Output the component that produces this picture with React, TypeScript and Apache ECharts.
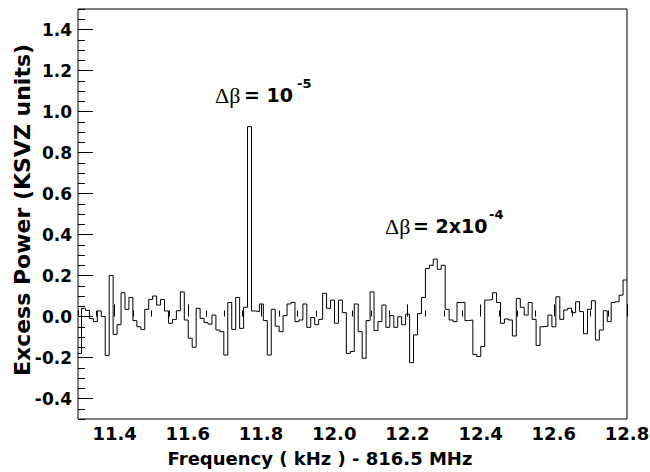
import React, { useEffect, useRef } from "react";
import * as echarts from "echarts";

// Histogram binning (kHz, offset from 816.5 MHz)
const binStart = 11.2988;
const binWidth = 0.0108;

// Excess power per bin (KSVZ units)
const powerLow = [
  -0.18, 0.04, 0.03, -0.01, -0.025, 0.027, 0.0, -0.19, 0.2, -0.087, -0.04, 0.116, 0.035, 0.093,
  -0.02, -0.05, -0.063, 0.035, 0.083, 0.1, 0.056, 0.083, 0.027, -0.033, -0.014, 0.028, 0.12,
  -0.017, -0.106, -0.15, 0.04, -0.009, -0.03, -0.037, 0.007, -0.066, -0.074, -0.188, 0.068,
  -0.063, 0.093, -0.058, 0.045, 0.926,
];
const powerMid = [
  0.027, 0.024, 0.061, -0.02, -0.188, 0.035, -0.047, -0.074, 0.004, 0.061, 0.069, -0.025, -0.017,
  0.061, -0.053, -0.005, -0.04, -0.014, 0.113, 0.04, 0.08, -0.033, 0.08, 0.019, -0.18, -0.171,
  0.061, -0.074, -0.204, -0.02, 0.12, -0.069, -0.025, 0.056, -0.053, 0.004, -0.053, -0.001,
  -0.04, 0.011, -0.225, -0.09, 0.014, 0.093, 0.234, 0.25, 0.28, 0.23, 0.25,
];
const powerHigh = [
  0.035, -0.017, -0.025, 0.068, 0.069, -0.02, -0.017, -0.185, -0.195, -0.146, 0.08, 0.083, 0.116,
  0.068, -0.033, -0.012, -0.017, -0.095, 0.088, 0.045, 0.007, 0.068, -0.014, -0.141, -0.05,
  -0.047, 0.007, -0.05, 0.096, -0.014, 0.032, 0.04, 0.019, 0.072, 0.024, -0.084, 0.035, 0.077,
  -0.115, -0.066, 0.028, -0.025, 0.068, 0.072, 0.104, 0.178,
];

const xMajorTicks = [11.4, 11.6, 11.8, 12.0, 12.2, 12.4, 12.6, 12.8];
const yMajorTicks = [-0.4, -0.2, 0.0, 0.2, 0.4, 0.6, 0.8, 1.0, 1.2, 1.4];

const xTitle = "Frequency ( kHz ) - 816.5 MHz";
const yTitle = "Excess Power (KSVZ units)";

const SANS = "'DejaVu Sans', sans-serif";
const SERIF = "'Liberation Serif', 'DejaVu Serif', serif";

function minorTicks(lo: number, hi: number, stepHundredths: number, majorHundredths: number) {
  const out: number[] = [];
  for (let k = Math.round(lo * 100); k <= Math.round(hi * 100); k += stepHundredths) {
    if (k % majorHundredths !== 0) out.push(k / 100);
  }
  return out;
}

export default function App() {
  const ref = useRef<HTMLDivElement>(null);

  useEffect(() => {
    if (!ref.current) return;
    const chart = echarts.init(ref.current, null, { renderer: "svg" });

    const values = [...powerLow, ...powerMid, ...powerHigh];
    const data: number[][] = values.map((v, k) => [binStart + k * binWidth, v]);
    data.push([binStart + values.length * binWidth, values[values.length - 1]]);

    const xMinor = minorTicks(11.3, 12.8, 5, 20);
    const yMinor = minorTicks(-0.5, 1.5, 5, 20);

    const tickLine = { color: "#000", width: 1 };

    chart.setOption({
      animation: false,
      backgroundColor: "#fff",
      grid: {
        left: 78,
        top: 9,
        width: 549,
        height: 410,
        show: true,
        borderColor: "#000",
        borderWidth: 1,
        backgroundColor: "transparent",
        containLabel: false,
        outerBoundsMode: "none",
      },
      xAxis: [
        {
          type: "value",
          min: 11.3,
          max: 12.8,
          position: "bottom",
          axisLine: { show: false },
          splitLine: { show: false },
          axisTick: { show: true, inside: true, length: 12, customValues: xMajorTicks, lineStyle: tickLine },
          axisLabel: {
            customValues: xMajorTicks,
            formatter: (v: number) => v.toFixed(1),
            fontFamily: SANS,
            fontWeight: "bold",
            fontSize: 18,
            color: "#000",
            margin: 5,
          },
        },
        {
          type: "value",
          min: 11.3,
          max: 12.8,
          position: "bottom",
          offset: 0,
          axisLine: { show: false },
          splitLine: { show: false },
          axisTick: { show: true, inside: true, length: 6, customValues: xMinor, lineStyle: tickLine },
          axisLabel: { show: false },
        },
      ],
      yAxis: [
        {
          type: "value",
          min: -0.5,
          max: 1.5,
          position: "left",
          axisLine: { show: false },
          splitLine: { show: false },
          axisTick: { show: true, inside: true, length: 15, customValues: yMajorTicks, lineStyle: tickLine },
          axisLabel: {
            customValues: yMajorTicks,
            formatter: (v: number) => v.toFixed(1),
            fontFamily: SANS,
            fontWeight: "bold",
            fontSize: 17,
            color: "#000",
            margin: 6,
          },
        },
        {
          type: "value",
          min: -0.5,
          max: 1.5,
          position: "left",
          offset: 0,
          axisLine: { show: false },
          splitLine: { show: false },
          axisTick: { show: true, inside: true, length: 7, customValues: yMinor, lineStyle: tickLine },
          axisLabel: { show: false },
        },
      ],
      series: [
        {
          type: "line",
          xAxisIndex: 0,
          yAxisIndex: 0,
          data,
          step: "end",
          symbol: "none",
          showSymbol: false,
          clip: true,
          lineStyle: { color: "#000", width: 1 },
        },
      ],
      graphic: [
        {
          type: "text",
          x: 320,
          y: 458,
          style: {
            text: xTitle,
            fontFamily: SANS,
            fontWeight: "bold",
            fontSize: 18,
            fill: "#000",
            align: "center",
            verticalAlign: "middle",
          },
        },
        {
          type: "text",
          x: 22,
          y: 210,
          rotation: Math.PI / 2,
          style: {
            text: yTitle,
            fontFamily: SANS,
            fontWeight: "bold",
            fontSize: 22,
            fill: "#000",
            align: "center",
            verticalAlign: "middle",
          },
        },
        // Annotation: Δβ = 10^-5
        {
          type: "text",
          x: 215,
          y: 95,
          style: { text: "Δβ", fontFamily: SERIF, fontSize: 22, fill: "#000", align: "left", verticalAlign: "middle" },
        },
        {
          type: "text",
          x: 244,
          y: 95,
          style: { text: "= 10", fontFamily: SANS, fontWeight: "bold", fontSize: 19, fill: "#000", align: "left", verticalAlign: "middle" },
        },
        {
          type: "text",
          x: 297,
          y: 83,
          style: { text: "-5", fontFamily: SANS, fontWeight: "bold", fontSize: 13, fill: "#000", align: "left", verticalAlign: "middle" },
        },
        // Annotation: Δβ = 2x10^-4
        {
          type: "text",
          x: 385,
          y: 226,
          style: { text: "Δβ", fontFamily: SERIF, fontSize: 22, fill: "#000", align: "left", verticalAlign: "middle" },
        },
        {
          type: "text",
          x: 413,
          y: 226,
          style: { text: "= 2x10", fontFamily: SANS, fontWeight: "bold", fontSize: 19, fill: "#000", align: "left", verticalAlign: "middle" },
        },
        {
          type: "text",
          x: 489,
          y: 214,
          style: { text: "-4", fontFamily: SANS, fontWeight: "bold", fontSize: 13, fill: "#000", align: "left", verticalAlign: "middle" },
        },
      ],
    });

    return () => chart.dispose();
  }, []);

  return (
    <div
      ref={ref}
      style={{ position: "fixed", left: 0, top: 0, width: 650, height: 472, background: "#fff" }}
    />
  );
}
